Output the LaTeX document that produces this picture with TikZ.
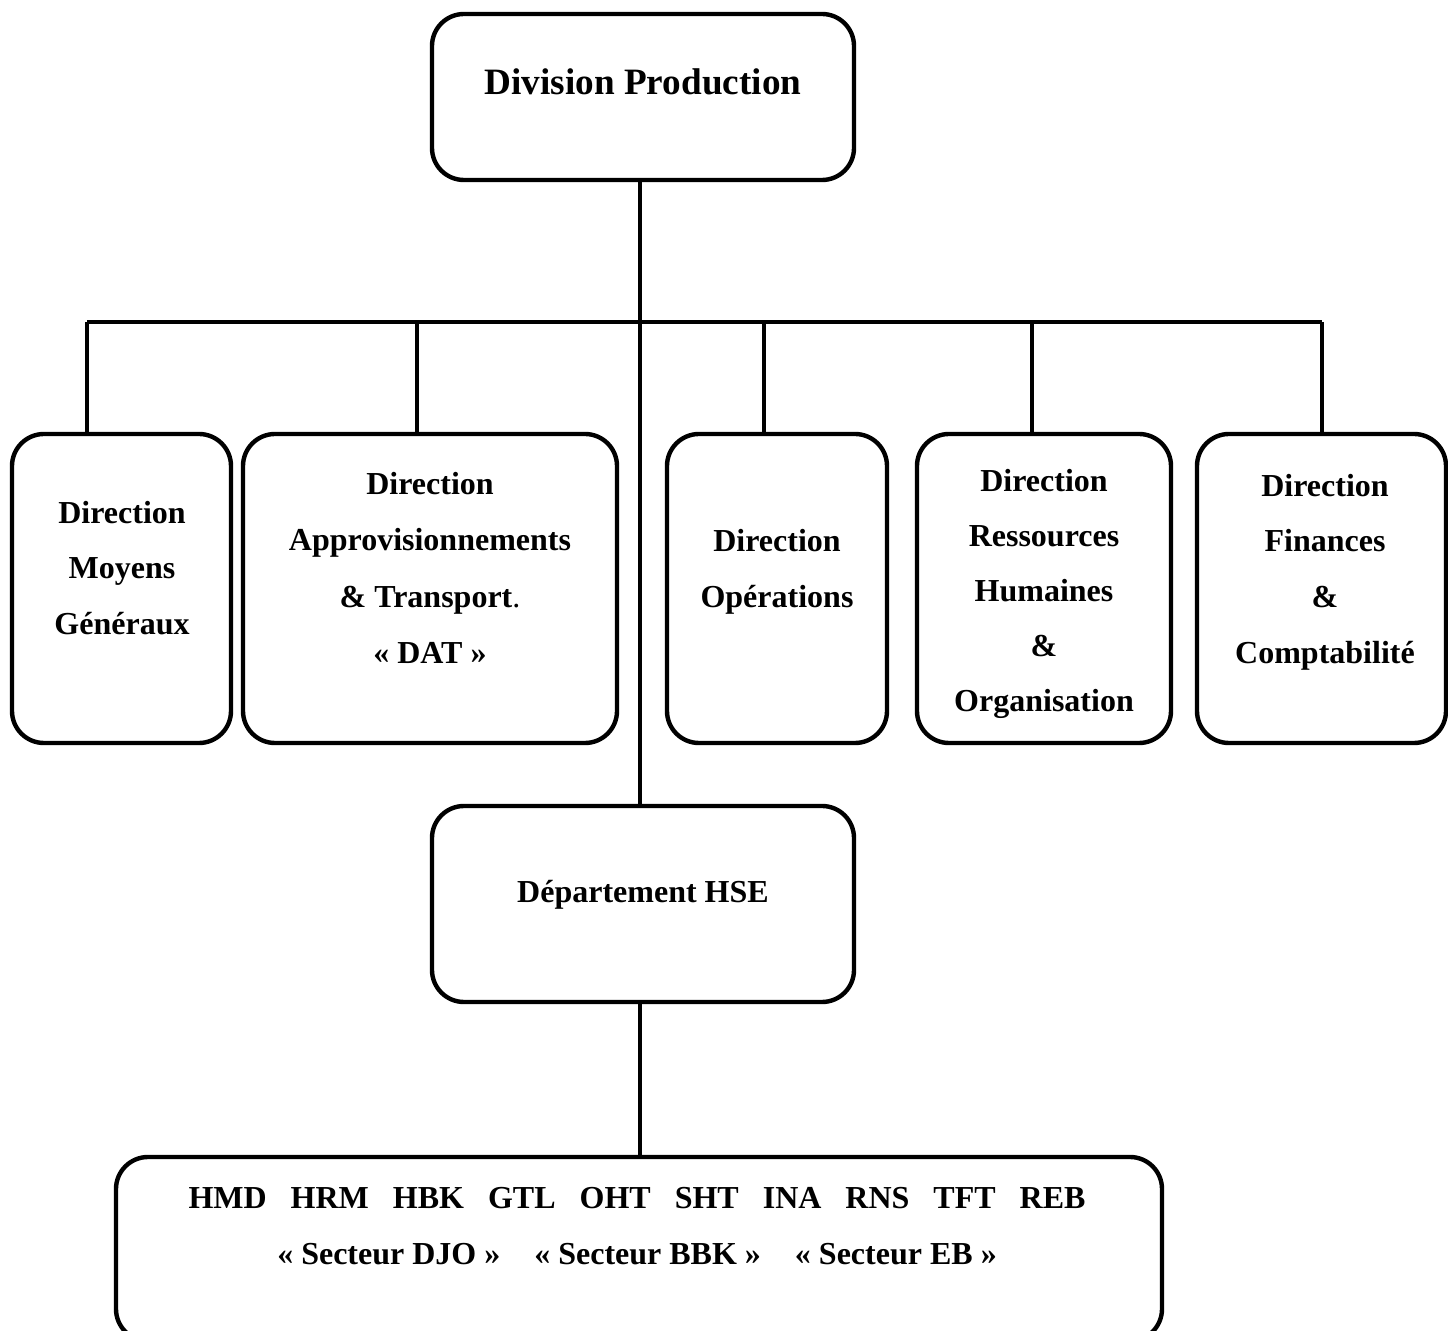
\documentclass[tikz,border=0pt]{standalone}
\usepackage{fontspec}
\setmainfont{Liberation Serif}
\begin{document}
\begin{tikzpicture}[x=0.5pt,y=-0.5pt,
  unit/.style={draw=black,line width=2.2pt,rounded corners=16pt,inner sep=0pt},
  lbl/.style={font=\bfseries\fontsize{16}{27.8}\selectfont,align=center,inner sep=0pt},
  wire/.style={line width=2.2pt}]
\useasboundingbox (0,0) rectangle (1448,1331);
\clip (0,0) rectangle (1448,1331);
% boxes (geometry given by corners)
\node[unit,minimum width=211pt,minimum height=83pt] (top) at (643,97) {};
\node[unit,minimum width=109.5pt,minimum height=154.5pt] (d1) at (121.5,588.5) {};
\node[unit,minimum width=187pt,minimum height=154.5pt] (d2) at (430,588.5) {};
\node[unit,minimum width=110pt,minimum height=154.5pt] (d3) at (777,588.5) {};
\node[unit,minimum width=127pt,minimum height=154.5pt] (d4) at (1044,588.5) {};
\node[unit,minimum width=124.5pt,minimum height=154.5pt] (d5) at (1321.5,588.5) {};
\node[unit,minimum width=211pt,minimum height=98pt] (hse) at (643,904) {};
\node[unit,minimum width=523pt,minimum height=92pt] (sites) at (639,1249) {};
% texts
\node[lbl,font=\bfseries\fontsize{18.6}{22}\selectfont] (ttop) at (643,82) {Division Production};
\node[lbl] (t1) at (122,568) {Direction\\Moyens\\Généraux};
\node[lbl,font=\bfseries\fontsize{16}{28.2}\selectfont] (t2) at (430,568) {Direction\\Approvisionnements\\\& Transport{\mdseries .}\\« DAT »};
\node[lbl] (t3) at (777,572) {Direction\\Opérations};
\node[lbl,font=\bfseries\fontsize{16}{27.5}\selectfont] (t4) at (1044,594) {Direction\\Ressources\\Humaines\\\&\\Organisation};
\node[lbl] (t5) at (1325,572) {Direction\\Finances\\\&\\Comptabilité};
\node[lbl] (thse) at (643,895) {Département HSE};
\node[lbl,font=\bfseries\fontsize{16}{28}\selectfont] (tsites) at (637,1226) {HMD\hspace{12pt}HRM\hspace{12pt}HBK\hspace{12pt}GTL\hspace{12pt}OHT\hspace{12pt}SHT\hspace{12pt}INA\hspace{12pt}RNS\hspace{12pt}TFT\hspace{12pt}REB\\« Secteur DJO »\hspace{17pt}« Secteur BBK »\hspace{17pt}« Secteur EB »};
% connectors
\coordinate (trunk) at (640,0);
\coordinate (busL) at (87,322);
\coordinate (busR) at (1322,322);
\draw[wire] (top.south -| trunk) -- (hse.north -| trunk);
\draw[wire] (busL) -- (busR);
\draw[wire] (busL) -- (d1.north -| busL);
\draw[wire] (417,322) -- (d2.north -| 417,0);
\draw[wire] (764,322) -- (d3.north -| 764,0);
\draw[wire] (1032,322) -- (d4.north -| 1032,0);
\draw[wire] (busR) -- (d5.north -| busR);
\draw[wire] (hse.south -| trunk) -- (sites.north -| trunk);
\end{tikzpicture}
\end{document}
